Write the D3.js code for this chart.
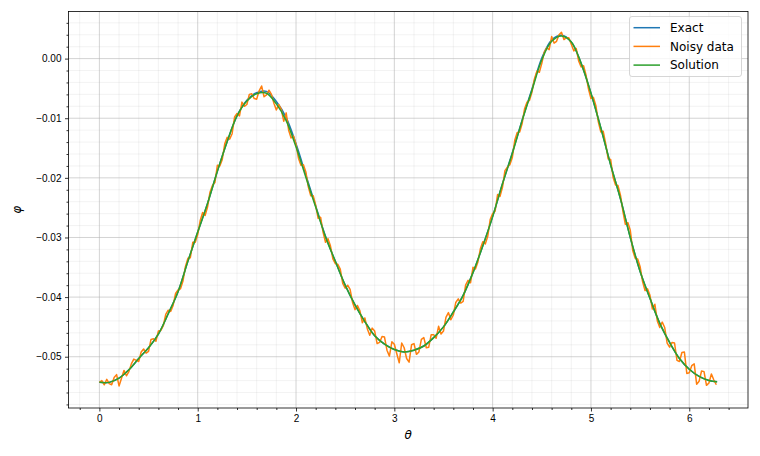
<!DOCTYPE html>
<html>
<head>
<meta charset="UTF-8">
<style>
  body { margin: 0; background: #fff; }
  svg { font-family: "DejaVu Sans", sans-serif; }
  .tick text { font-size: 10px; fill: #000; }
  .legend text { font-size: 12px; }
</style>
</head>
<body>
<svg width="760" height="456"></svg>
<script src="https://d3js.org/d3.v7.min.js"></script>
<script>
// theta grid for the smooth curves: 0, 0.1, ..., 6.2, then 2*pi
const thetaSmooth = d3.range(63).map(i => i / 10).concat([2 * Math.PI]);
// exact solution (x1e-4)
const exactVals = [-543,-543,-536,-522,-503,-485,-462,-428,-391,-340,
  -291,-243,-189,-139,-96,-70,-57,-55,-72,-99,
  -143,-195,-247,-298,-340,-380,-413,-441,-465,-479,
  -488,-492,-489,-482,-468,-450,-425,-397,-359,-314,
  -265,-210,-158,-103,-51,1,31,39,28,-8,
  -58,-116,-178,-235,-300,-357,-402,-444,-476,-503,
  -521,-533,-540,-542];
// recovered solution (x1e-4)
const solutionVals = [-543,-543,-536,-522,-503,-485,-462,-428,-391,-340,
  -291,-243,-189,-139,-96,-71,-59,-58,-76,-104,
  -148,-199,-249,-299,-340,-380,-413,-441,-465,-479,
  -488,-492,-489,-482,-468,-450,-425,-397,-359,-314,
  -265,-210,-159,-104,-53,-2,29,38,28,-8,
  -58,-116,-178,-235,-300,-357,-402,-444,-476,-503,
  -521,-533,-540,-542];
// noisy samples at theta = 0, 0.05, ..., 6.25 (x1e-4)
const noisyVals = [-543,-547,-545,-535,-549,-523,-525,-504,-508,-487,
  -491,-470,-457,-448,-422,-414,-388,-373,-335,-308,
  -295,-258,-249,-213,-179,-169,-132,-126,-92,-73,
  -77,-59,-68,-46,-61,-60,-86,-85,-91,-133,
  -144,-179,-190,-230,-246,-266,-308,-314,-344,-353,
  -385,-387,-421,-423,-435,-464,-457,-476,-467,-499,
  -479,-510,-485,-509,-478,-492,-468,-484,-463,-449,
  -457,-426,-430,-403,-407,-372,-350,-341,-307,-298,
  -260,-228,-216,-182,-166,-124,-109,-73,-56,-21,
  -8,18,37,29,44,35,24,17,-14,-28,
  -67,-79,-123,-143,-169,-212,-229,-278,-288,-335,
  -349,-389,-397,-412,-451,-451,-484,-477,-508,-492,
  -527,-512,-541,-525,-544,-539];
// noisy samples at theta = 0.025, 0.075, ..., 6.275 (x1e-4)
const noisyMidVals = [-540,-538,-547,-530,-536,-532,-512,-506,-492,-494,
  -471,-474,-456,-429,-424,-394,-386,-349,-334,-308,
  -272,-263,-224,-208,-180,-143,-135,-98,-96,-80,
  -60,-67,-54,-64,-53,-75,-77,-105,-120,-130,
  -167,-178,-215,-230,-268,-291,-302,-336,-345,-377,
  -380,-409,-414,-443,-453,-452,-478,-466,-489,-475,
  -495,-477,-503,-480,-496,-471,-485,-463,-469,-462,
  -434,-438,-409,-410,-380,-376,-353,-319,-311,-270,
  -256,-231,-188,-178,-137,-123,-84,-70,-34,-23,
  11,15,26,40,32,35,13,-4,-12,-51,
  -65,-106,-122,-168,-199,-213,-256,-275,-322,-336,
  -374,-386,-420,-440,-442,-477,-476,-506,-493,-528,
  -515,-546,-524,-548,-529,-547];

const xMajor = [0, 1, 2, 3, 4, 5, 6];
const yMajor = [0, -0.01, -0.02, -0.03, -0.04, -0.05];
const seriesNames = ["Exact", "Noisy data", "Solution"];
const colors = ["#1f77b4", "#ff7f0e", "#2ca02c"];

const m = {left: 68.5, right: 748, top: 11.5, bottom: 408};
const svg = d3.select("svg");

const x = d3.scaleLinear().domain([-0.3142, 6.5973]).range([m.left, m.right]);
const y = d3.scaleLinear().domain([-0.0586, 0.0079]).range([m.bottom, m.top]);

const xMinor = d3.range(-0.2, 6.6, 0.2).filter(v => Math.abs(v - Math.round(v)) > 1e-6);
const yMinor = d3.range(-0.058, 0.0079, 0.002).filter(v => Math.abs(v * 100 - Math.round(v * 100)) > 1e-6);

// grid
const grid = svg.append("g");
grid.selectAll(".gxm").data(xMinor).join("line")
  .attr("x1", d => x(d)).attr("x2", d => x(d)).attr("y1", m.top).attr("y2", m.bottom)
  .attr("stroke", "#b0b0b0").attr("stroke-opacity", 0.2).attr("stroke-width", 0.8);
grid.selectAll(".gym").data(yMinor).join("line")
  .attr("y1", d => y(d)).attr("y2", d => y(d)).attr("x1", m.left).attr("x2", m.right)
  .attr("stroke", "#b0b0b0").attr("stroke-opacity", 0.2).attr("stroke-width", 0.8);
grid.selectAll(".gx").data(xMajor).join("line")
  .attr("x1", d => x(d)).attr("x2", d => x(d)).attr("y1", m.top).attr("y2", m.bottom)
  .attr("stroke", "#b0b0b0").attr("stroke-opacity", 0.7).attr("stroke-width", 0.8);
grid.selectAll(".gy").data(yMajor).join("line")
  .attr("y1", d => y(d)).attr("y2", d => y(d)).attr("x1", m.left).attr("x2", m.right)
  .attr("stroke", "#b0b0b0").attr("stroke-opacity", 0.7).attr("stroke-width", 0.8);

// lines
const line = d3.line().x(d => x(d[0])).y(d => y(d[1]));
const smooth = d3.line().x(d => x(d[0])).y(d => y(d[1])).curve(d3.curveCatmullRom);
const exact = thetaSmooth.map((t, i) => [t, exactVals[i] * 1e-4]);
const solution = thetaSmooth.map((t, i) => [t, solutionVals[i] * 1e-4]);
const noisy = [];
noisyVals.forEach((v, k) => {
  noisy.push([k * 0.05, v * 1e-4]);
  noisy.push([k * 0.05 + 0.025, noisyMidVals[k] * 1e-4]);
});

const plot = svg.append("g");
plot.append("path").attr("d", smooth(exact)).attr("fill", "none")
  .attr("stroke", colors[0]).attr("stroke-width", 1.5);
plot.append("path").attr("d", line(noisy)).attr("fill", "none")
  .attr("stroke", colors[1]).attr("stroke-width", 1.5).attr("stroke-linejoin", "round");
plot.append("path").attr("d", smooth(solution)).attr("fill", "none")
  .attr("stroke", colors[2]).attr("stroke-width", 1.5);

// axes
const fmtY = v => (v < 0 ? "\u2212" : "") + Math.abs(v).toFixed(2);
const xAxis = svg.append("g").attr("transform", `translate(0,${m.bottom})`)
  .call(d3.axisBottom(x).tickValues(xMajor).tickFormat(d3.format("d")).tickSize(3.5).tickPadding(3.5));
const xAxisMinor = svg.append("g").attr("transform", `translate(0,${m.bottom})`)
  .call(d3.axisBottom(x).tickValues(xMinor).tickFormat("").tickSize(2));
const yAxis = svg.append("g").attr("transform", `translate(${m.left},0)`)
  .call(d3.axisLeft(y).tickValues(yMajor).tickFormat(fmtY).tickSize(3.5).tickPadding(3.5));
const yAxisMinor = svg.append("g").attr("transform", `translate(${m.left},0)`)
  .call(d3.axisLeft(y).tickValues(yMinor).tickFormat("").tickSize(2));
[xAxis, xAxisMinor, yAxis, yAxisMinor].forEach(g => {
  g.select(".domain").remove();
  g.selectAll(".tick line").attr("stroke", "#000").attr("stroke-width", 0.8);
});

// frame
svg.append("rect").attr("x", m.left).attr("y", m.top)
  .attr("width", m.right - m.left).attr("height", m.bottom - m.top)
  .attr("fill", "none").attr("stroke", "#000").attr("stroke-width", 0.8);

// axis labels
svg.append("text").attr("x", (m.left + m.right) / 2).attr("y", 439)
  .attr("text-anchor", "middle").attr("font-size", 12).attr("font-style", "italic")
  .text("θ");
svg.append("text").attr("transform", `translate(21,${(m.top + m.bottom) / 2}) rotate(-90)`)
  .attr("text-anchor", "middle").attr("font-size", 12).attr("font-style", "italic")
  .text("φ");

// legend
const legend = svg.append("g").attr("class", "legend");
legend.append("rect").attr("x", 629.5).attr("y", 16.5).attr("width", 112).attr("height", 60)
  .attr("rx", 2.5).attr("fill", "#fff").attr("fill-opacity", 0.8)
  .attr("stroke", "#cccccc").attr("stroke-width", 0.8);
seriesNames.forEach((name, i) => {
  const yy = 27.7 + i * 18.7;
  legend.append("line").attr("x1", 633.5).attr("x2", 660).attr("y1", yy).attr("y2", yy)
    .attr("stroke", colors[i]).attr("stroke-width", 1.5);
  legend.append("text").attr("x", 670).attr("y", yy).attr("dy", "0.36em").text(name);
});
</script>
</body>
</html>
